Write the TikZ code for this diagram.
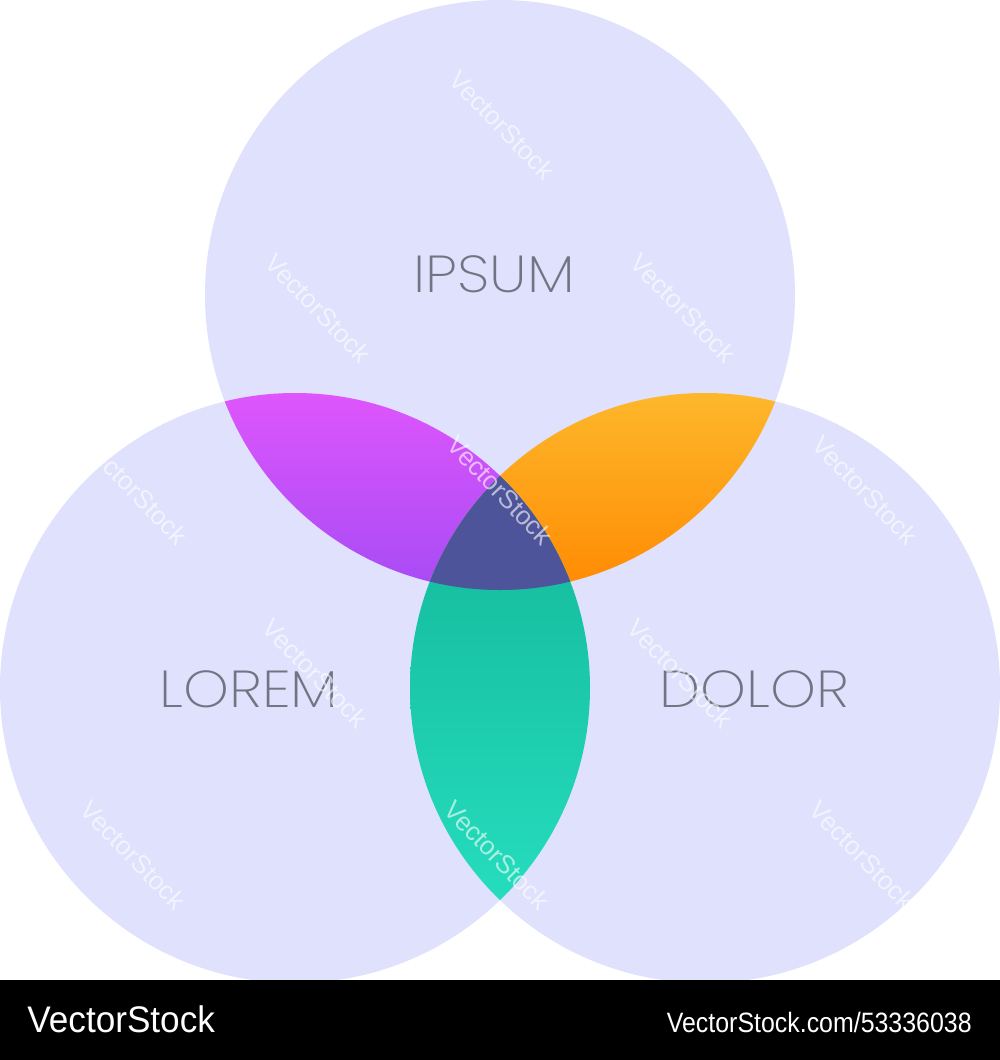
\documentclass[tikz,border=0pt]{standalone}
\usepackage{fontspec}
\setmainfont{Liberation Sans}
\newfontfamily\labelfont{Poppins ExtraLight}
\usetikzlibrary{positioning}

\definecolor{circlefill}{HTML}{DFE1FD}
\definecolor{magtop}{HTML}{DF56FC}
\definecolor{magbot}{HTML}{A64BF5}
\definecolor{orgtop}{HTML}{FEB82C}
\definecolor{orgbot}{HTML}{FF8A02}
\definecolor{grntop}{HTML}{12B698}
\definecolor{grnbot}{HTML}{25DDBD}
\definecolor{coremix}{HTML}{4E5499}
\definecolor{labelgray}{HTML}{737483}

\begin{document}
\begin{tikzpicture}[x=0.5pt,y=-0.5pt,
    ring/.style={fill=circlefill},
    vennlabel/.style={text=labelgray,anchor=base,inner sep=0pt,xscale=1.12,
        font=\labelfont\fontsize{26}{26}\selectfont},
    stamp/.style={text=white,opacity=0.6,rotate=-46,
        font=\fontsize{13}{13}\selectfont},
    barmark/.style={text=white,inner sep=0pt}]
    \useasboundingbox (0,0) rectangle (1000,1060);
    \def\rad{147.5pt}
    \coordinate (ipsum) at (500,295);
    \coordinate (lorem) at (295,688);
    \coordinate (dolor) at (705,688);
    % the three sets
    \foreach \c in {ipsum,lorem,dolor}
        \fill[ring] (\c) circle (\rad);
    % ipsum and lorem
    \begin{scope}
        \clip (ipsum) circle (\rad);
        \clip (lorem) circle (\rad);
        \shade[top color=magtop,bottom color=magbot] (220,390) rectangle (580,592);
    \end{scope}
    % ipsum and dolor
    \begin{scope}
        \clip (ipsum) circle (\rad);
        \clip (dolor) circle (\rad);
        \shade[top color=orgtop,bottom color=orgbot] (420,390) rectangle (780,592);
    \end{scope}
    % lorem and dolor
    \begin{scope}
        \clip (lorem) circle (\rad);
        \clip (dolor) circle (\rad);
        \shade[top color=grntop,bottom color=grnbot] (405,475) rectangle (595,902);
    \end{scope}
    % all three
    \begin{scope}
        \clip (ipsum) circle (\rad);
        \clip (lorem) circle (\rad);
        \fill[coremix] (dolor) circle (\rad);
    \end{scope}
    \node[vennlabel] (ipsumlabel) at (494,292) {IPSUM};
    \node[vennlabel] (loremlabel) at (249,707) {LOREM};
    \node[vennlabel] (dolorlabel) at (754,707) {DOLOR};
    % watermark
    \foreach \x/\y [count=\i] in {137/128,502/125,867/128,318/308,683/308,
        135/490,500/490,865/490,315/673,680/673,133/855,497/855,862/855}
        \node[stamp] (stamp\i) at (\x,\y) {VectorStock};
    \fill[black] (0,980) rectangle (1000,1060);
    \node[barmark,anchor=base west,xscale=0.95,font=\fontsize{18.5}{18.5}\selectfont]
        (brand) at (27,1032) {VectorStock};
    \node[barmark,anchor=base east,xscale=0.89,font=\fontsize{14}{14}\selectfont]
        (imageref) at (972,1032) {VectorStock.com/53336038};
\end{tikzpicture}
\end{document}
